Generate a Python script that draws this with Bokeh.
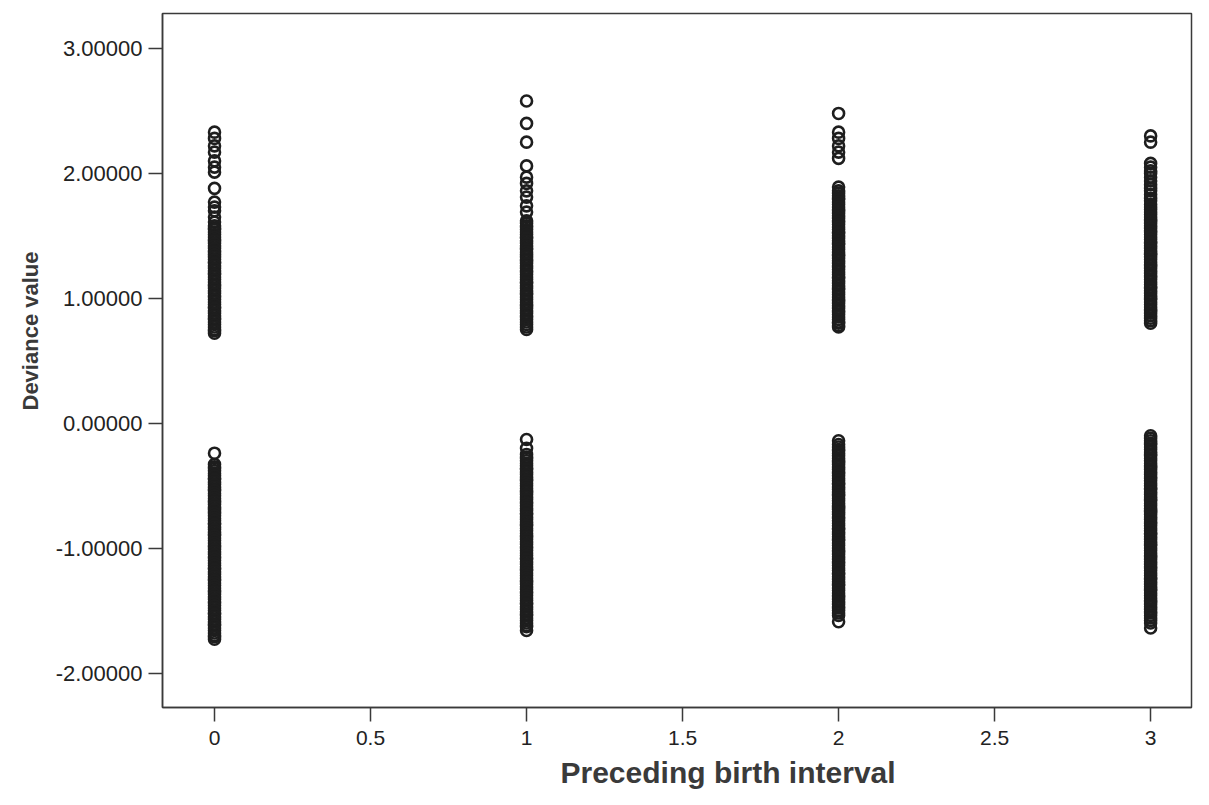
from bokeh.plotting import figure
from bokeh.models import FixedTicker, NumeralTickFormatter, ColumnDataSource, Title
from bokeh.embed import file_html
from bokeh.resources import INLINE

# ---- data ----
interval_levels = [0, 1, 2, 3]

dev_interval_0 = [2.33, 2.28, 2.22, 2.17, 2.10, 2.05, 2.01, 1.88, 1.77, 1.73, 1.70, 1.65, 1.61,
                  1.58, 1.56, 1.55, 1.53, 1.51, 1.49, 1.47, 1.46, 1.44, 1.42, 1.40, 1.38, 1.37,
                  1.35, 1.33, 1.31, 1.29, 1.28, 1.26, 1.24, 1.22, 1.20, 1.19, 1.17, 1.15, 1.13,
                  1.11, 1.10, 1.08, 1.06, 1.04, 1.02, 1.01, 0.99, 0.97, 0.95, 0.93, 0.92, 0.90,
                  0.88, 0.86, 0.84, 0.83, 0.81, 0.79, 0.77, 0.75, 0.74, 0.72,
                  -0.24, -0.33, -0.35, -0.36, -0.38, -0.40, -0.42, -0.44, -0.45, -0.47, -0.49,
                  -0.51, -0.53, -0.54, -0.56, -0.58, -0.60, -0.62, -0.63, -0.65, -0.67, -0.69,
                  -0.71, -0.72, -0.74, -0.76, -0.78, -0.80, -0.81, -0.83, -0.85, -0.87, -0.89,
                  -0.90, -0.92, -0.94, -0.96, -0.98, -0.99, -1.01, -1.03, -1.05, -1.07, -1.08,
                  -1.10, -1.12, -1.14, -1.16, -1.17, -1.19, -1.21, -1.23, -1.25, -1.26, -1.28,
                  -1.30, -1.32, -1.34, -1.35, -1.37, -1.39, -1.41, -1.43, -1.44, -1.46, -1.48,
                  -1.50, -1.52, -1.53, -1.55, -1.57, -1.59, -1.61, -1.62, -1.64, -1.66, -1.68,
                  -1.70, -1.71, -1.73]

dev_interval_1 = [2.58, 2.40, 2.25, 2.06, 1.97, 1.92, 1.86, 1.81, 1.74, 1.69, 1.62, 1.60, 1.58,
                  1.57, 1.55, 1.53, 1.51, 1.49, 1.48, 1.46, 1.44, 1.42, 1.40, 1.39, 1.37, 1.35,
                  1.33, 1.31, 1.30, 1.28, 1.26, 1.24, 1.22, 1.21, 1.19, 1.17, 1.15, 1.13, 1.12,
                  1.10, 1.08, 1.06, 1.04, 1.03, 1.01, 0.99, 0.97, 0.95, 0.94, 0.92, 0.90, 0.88,
                  0.86, 0.85, 0.83, 0.81, 0.79, 0.77, 0.75,
                  -0.13, -0.20, -0.25, -0.27, -0.28, -0.30, -0.32, -0.34, -0.36, -0.37, -0.39,
                  -0.41, -0.43, -0.45, -0.46, -0.48, -0.50, -0.52, -0.54, -0.55, -0.57, -0.59,
                  -0.61, -0.63, -0.64, -0.66, -0.68, -0.70, -0.72, -0.73, -0.75, -0.77, -0.79,
                  -0.81, -0.82, -0.84, -0.86, -0.88, -0.90, -0.91, -0.93, -0.95, -0.97, -0.99,
                  -1.00, -1.02, -1.04, -1.06, -1.08, -1.09, -1.11, -1.13, -1.15, -1.17, -1.18,
                  -1.20, -1.22, -1.24, -1.26, -1.27, -1.29, -1.31, -1.33, -1.35, -1.36, -1.38,
                  -1.40, -1.42, -1.44, -1.45, -1.47, -1.49, -1.51, -1.53, -1.54, -1.56, -1.58,
                  -1.60, -1.62, -1.63, -1.66]

dev_interval_2 = [2.48, 2.33, 2.28, 2.22, 2.17, 2.12, 1.89, 1.86, 1.84, 1.82, 1.80, 1.79, 1.77,
                  1.75, 1.73, 1.71, 1.70, 1.68, 1.66, 1.64, 1.62, 1.61, 1.59, 1.57, 1.55, 1.53,
                  1.52, 1.50, 1.48, 1.46, 1.44, 1.43, 1.41, 1.39, 1.37, 1.35, 1.34, 1.32, 1.30,
                  1.28, 1.26, 1.25, 1.23, 1.21, 1.19, 1.17, 1.16, 1.14, 1.12, 1.10, 1.08, 1.07,
                  1.05, 1.03, 1.01, 0.99, 0.98, 0.96, 0.94, 0.92, 0.90, 0.89, 0.87, 0.85, 0.83,
                  0.81, 0.80, 0.78, 0.77,
                  -0.14, -0.17, -0.19, -0.21, -0.22, -0.24, -0.26, -0.28, -0.30, -0.31, -0.33,
                  -0.35, -0.37, -0.39, -0.40, -0.42, -0.44, -0.46, -0.48, -0.49, -0.51, -0.53,
                  -0.55, -0.57, -0.58, -0.60, -0.62, -0.64, -0.66, -0.67, -0.69, -0.71, -0.73,
                  -0.75, -0.76, -0.78, -0.80, -0.82, -0.84, -0.85, -0.87, -0.89, -0.91, -0.93,
                  -0.94, -0.96, -0.98, -1.00, -1.02, -1.03, -1.05, -1.07, -1.09, -1.11, -1.12,
                  -1.14, -1.16, -1.18, -1.20, -1.21, -1.23, -1.25, -1.27, -1.29, -1.30, -1.32,
                  -1.34, -1.36, -1.38, -1.39, -1.41, -1.43, -1.45, -1.47, -1.48, -1.50, -1.52,
                  -1.54, -1.59]

dev_interval_3 = [2.30, 2.25, 2.08, 2.05, 2.02, 2.00, 1.97, 1.94, 1.91, 1.88, 1.86, 1.83, 1.80,
                  1.78, 1.75, 1.73, 1.71, 1.69, 1.67, 1.65, 1.63, 1.62, 1.60, 1.58, 1.56, 1.54,
                  1.53, 1.51, 1.49, 1.47, 1.45, 1.44, 1.42, 1.40, 1.38, 1.36, 1.35, 1.33, 1.31,
                  1.29, 1.27, 1.26, 1.24, 1.22, 1.20, 1.18, 1.17, 1.15, 1.13, 1.11, 1.09, 1.08,
                  1.06, 1.04, 1.02, 1.00, 0.99, 0.97, 0.95, 0.93, 0.91, 0.90, 0.88, 0.86, 0.84,
                  0.82, 0.80,
                  -0.10, -0.12, -0.14, -0.16, -0.17, -0.19, -0.21, -0.23, -0.25, -0.26, -0.28,
                  -0.30, -0.32, -0.34, -0.35, -0.37, -0.39, -0.41, -0.43, -0.44, -0.46, -0.48,
                  -0.50, -0.52, -0.53, -0.55, -0.57, -0.59, -0.61, -0.62, -0.64, -0.66, -0.68,
                  -0.70, -0.71, -0.73, -0.75, -0.77, -0.79, -0.80, -0.82, -0.84, -0.86, -0.88,
                  -0.89, -0.91, -0.93, -0.95, -0.97, -0.98, -1.00, -1.02, -1.04, -1.06, -1.07,
                  -1.09, -1.11, -1.13, -1.15, -1.16, -1.18, -1.20, -1.22, -1.24, -1.25, -1.27,
                  -1.29, -1.31, -1.33, -1.34, -1.36, -1.38, -1.40, -1.42, -1.43, -1.45, -1.47,
                  -1.49, -1.51, -1.52, -1.54, -1.56, -1.58, -1.60, -1.64]

x_ticks = [0, 0.5, 1, 1.5, 2, 2.5, 3]
x_tick_labels = ["0", "0.5", "1", "1.5", "2", "2.5", "3"]
y_ticks = [-2, -1, 0, 1, 2, 3]

x_title = "Preceding birth interval"
y_title = "Deviance value"

# ---- build source ----
groups = [dev_interval_0, dev_interval_1, dev_interval_2, dev_interval_3]
xs, ys = [], []
for lvl, vals in zip(interval_levels, groups):
    xs.extend([lvl] * len(vals))
    ys.extend(vals)
src = ColumnDataSource(dict(x=xs, y=ys))

p = figure(width=1209, height=805, output_backend="svg", toolbar_location=None,
           x_range=(-0.1667, 3.131), y_range=(-2.276, 3.28),
           min_border_left=162, min_border_right=18, min_border_top=13, min_border_bottom=98)

p.scatter("x", "y", source=src, marker="circle", size=11, fill_color=None,
          line_color="#1e1e1e", line_width=2.6)

p.xgrid.visible = False
p.ygrid.visible = False
p.background_fill_color = "white"
p.border_fill_color = "white"
p.outline_line_color = "#3a3a3a"
p.outline_line_width = 1.5

font = "Liberation Sans"
for ax in (p.xaxis[0], p.yaxis[0]):
    ax.axis_line_color = "#3a3a3a"
    ax.axis_line_width = 1.5
    ax.major_tick_line_color = "#3a3a3a"
    ax.major_tick_line_width = 1.5
    ax.major_tick_in = 0
    ax.major_tick_out = 14
    ax.minor_tick_line_color = None
    ax.major_label_text_font = font
    ax.major_label_text_color = "#222222"

p.xaxis.ticker = FixedTicker(ticks=x_ticks)
p.xaxis.major_label_overrides = {t: s for t, s in zip(x_ticks, x_tick_labels)}
p.xaxis.major_label_standoff = 9
p.xaxis.major_label_text_font_size = "21px"

p.yaxis.ticker = FixedTicker(ticks=y_ticks)
p.yaxis.formatter = NumeralTickFormatter(format="0.00000")
p.yaxis.major_label_standoff = 6
p.yaxis.major_label_text_font_size = "22px"

# small spacers between the axes and their titles
p.add_layout(Title(text=" ", text_font_size="6px", standoff=0), "below")
p.add_layout(Title(text=" ", text_font_size="6px", standoff=0), "left")

# axis titles, placed slightly off-centre as in the reference
xt = Title(text=x_title, align="left", offset=398, vertical_align="top", standoff=0,
           text_font=font, text_font_style="bold", text_font_size="30px",
           text_color="#3a3a3a")
yt = Title(text=y_title, align="left", offset=297, vertical_align="top", standoff=0,
           text_font=font, text_font_style="bold", text_font_size="22px",
           text_color="#3a3a3a")
p.add_layout(xt, "below")
p.add_layout(yt, "left")

open("out.html", "w").write(file_html(p, INLINE))
